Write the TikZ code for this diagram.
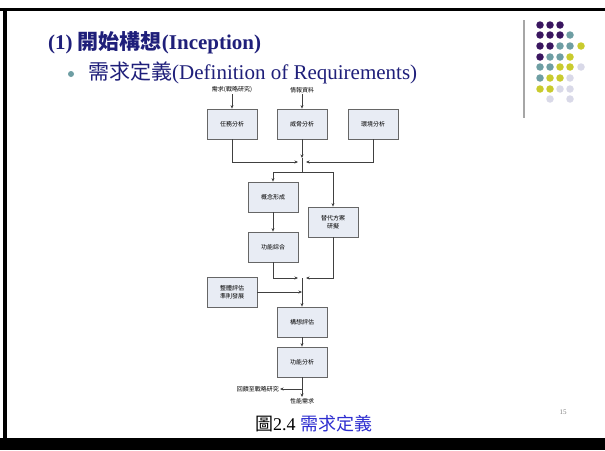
\documentclass[tikz,border=0pt]{standalone}
\usepackage{fontspec}
\setmainfont{Liberation Serif}
\newfontfamily\cjk{Noto Sans CJK TC}
\usetikzlibrary{arrows.meta}
\definecolor{titleblue}{HTML}{1F1F7A}
\definecolor{dpurple}{HTML}{3A1660}
\definecolor{dteal}{HTML}{6E9EA3}
\definecolor{dyellow}{HTML}{C9CB2E}
\definecolor{dlav}{HTML}{D9D9E8}
\definecolor{boxfill}{HTML}{E8ECF4}
\definecolor{capblue}{HTML}{2E2ED0}
\tikzset{
  box/.style={draw=gray!80!black, fill=boxfill, line width=0.8pt, minimum width=50pt, minimum height=30pt, inner sep=1pt, font=\cjk\fontsize{6}{7.5}\selectfont, align=center},
  lbl/.style={inner sep=1pt, font=\cjk\fontsize{6}{7.5}\selectfont},
  conn/.style={draw=black!75, line width=0.6pt},
  arr/.style={conn, -{Stealth[length=3.5pt,width=3pt]}},
  pdot/.style={circle, inner sep=0pt, minimum size=7.5pt, fill=#1}
}
\begin{document}
\begin{tikzpicture}[x=1pt,y=-1pt]
\useasboundingbox (0,0) rectangle (605,450);
\fill[white] (0,0) rectangle (605,450);
% frame
\fill[black] (0,8) rectangle (605,11);
\fill[black] (3,8) rectangle (7,450);
\fill[black] (0,438) rectangle (605,450);
% title
\node[anchor=west, text=titleblue, font=\bfseries\fontsize{21}{23}\selectfont, inner sep=0pt] (title) at (48,43) {(1) {\cjk 開始構想}(Inception)};
\node[circle, fill=dteal, minimum size=6pt, inner sep=0pt] (bul) at (71,74) {};
\node[anchor=west, text=titleblue, font=\fontsize{21}{23}\selectfont, inner sep=0pt] (sub) at (88,73) {{\cjk 需求定義}(Definition of Requirements)};
% decoration
\draw[gray!70, line width=1.5pt] (524,20) -- (524,118);
\foreach \c/\x/\y in {dpurple/540/25,dpurple/550/25,dpurple/560/25,
  dpurple/540/35,dpurple/550/35,dpurple/560/35,dteal/570/35,
  dpurple/540/46,dpurple/550/46,dteal/560/46,dteal/570/46,dyellow/581/46,
  dpurple/540/57,dteal/550/57,dteal/560/57,dyellow/570/57,
  dteal/540/67,dteal/550/67,dyellow/560/67,dyellow/570/67,dlav/581/67,
  dteal/540/78,dyellow/550/78,dyellow/560/78,dlav/570/78,
  dyellow/540/89,dyellow/550/89,dlav/560/89,dlav/570/89,
  dlav/550/99,dlav/570/99}
  \node[pdot=\c] at (\x,\y) {};
% diagram
\node[lbl] (req) at (232,90) {需求(戰略研究)};
\node[lbl] (intel) at (302,90) {情報資料};
\node[box] (b1) at (232,124) {任務分析};
\node[box] (b2) at (302,124) {威脅分析};
\node[box] (b3) at (373,124) {環境分析};
\node[box] (c1) at (273,197) {概念形成};
\node[box] (alt) at (333,222) {替代方案\\研擬};
\node[box] (c2) at (273,247) {功能綜合};
\node[box] (ev) at (232,292) {整體評估\\準則發展};
\node[box] (c3) at (302,322) {構想評估};
\node[box] (c4) at (302,362) {功能分析};
\draw[arr] (req) -- (b1);
\draw[arr] (intel) -- (b2);
\coordinate (j1) at (302,162);
\coordinate (j1l) at (298,162);
\coordinate (j1r) at (306,162);
\coordinate (j1t) at (302,158);
\coordinate (s1) at (302,172);
\draw[arr] (b1.south) |- (j1l);
\draw[arr] (b3.south) |- (j1r);
\draw[arr] (b2.south) -- (j1t);
\draw[conn] (j1t) -- (s1);
\draw[arr] (s1) -| (c1.north);
\draw[arr] (s1) -| (alt.north);
\draw[arr] (c1) -- (c2);
\coordinate (j2) at (302,278);
\coordinate (j2l) at (298,278);
\coordinate (j2r) at (306,278);
\draw[arr] (c2.south) |- (j2l);
\draw[arr] (alt.south) |- (j2r);
\coordinate (j3) at (302,292);
\draw[arr] (ev.east) -- (j3);
\draw[arr] (j2l -| j2) -- (c3.north);
\draw[arr] (c3) -- (c4);
\coordinate (fb) at (302,389);
\coordinate (fbend) at (280,389);
\coordinate (out) at (302,397);
\draw[arr] (c4.south) -- (out);
\draw[arr] (fb) -- (fbend);
\node[lbl, anchor=east] (fbl) at (fbend) {回饋至戰略研究};
\node[lbl, anchor=north] (perf) at (out) {性能需求};
% caption
\node[anchor=west, inner sep=0pt, font=\fontsize{18}{20}\selectfont] (cap) at (255,424) {{\cjk 圖}2.4 \textcolor{capblue}{\cjk 需求定義}};
\node[text=gray, font=\fontsize{7}{8}\selectfont] (pg) at (563,412) {15};
\end{tikzpicture}
\end{document}
